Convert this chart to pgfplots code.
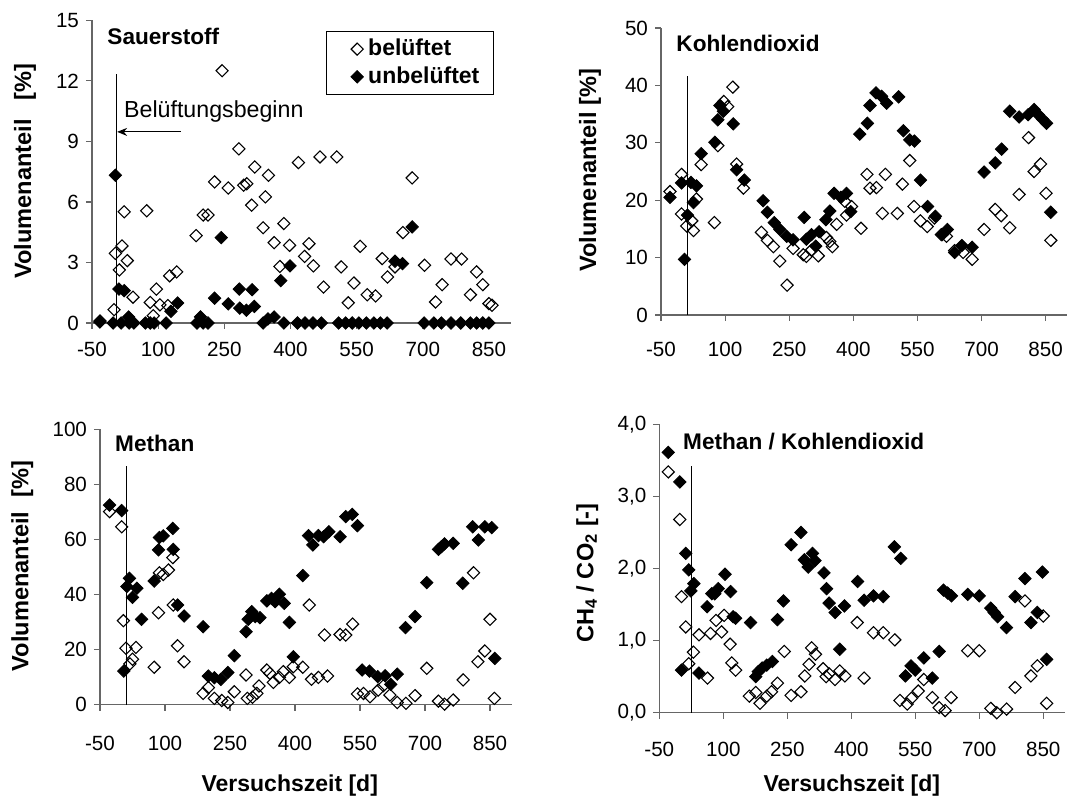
\documentclass[border=0pt]{standalone}
\usepackage{fontspec}
\setmainfont{Liberation Sans}
\usepackage{pgfplots}
\pgfplotsset{compat=1.18}
\usetikzlibrary{arrows.meta}

\tikzset{ttl/.style={anchor=west, font=\fontsize{11.3}{13}\selectfont\bfseries, inner sep=0pt}}
\pgfplotsset{
  panel/.style={
    scale only axis, anchor=south west,
    xmin=-50, xmax=900, ymin=0,
    axis lines*=left,
    axis line style={black!60, line width=0.6pt, -},
    xtick={-50,100,...,850},
    tick align=outside,
    major tick length=3pt,
    tick style={black!60, line width=0.6pt},
    tick label style={font=\fontsize{10.3}{12}\selectfont},
    /pgf/number format/assume math mode=true,
    clip=false,
    ylabel style={font=\fontsize{11.8}{13}\selectfont\bfseries},
    xlabel style={font=\fontsize{11.5}{13}\selectfont\bfseries},
  },
  belu/.style={only marks, mark=square, mark size=2.15pt, mark options={rotate=45, draw=black, line width=0.55pt}},
  unbelu/.style={only marks, mark=square*, mark size=2.2pt, mark options={rotate=45, draw=black, fill=black}},
}

\begin{document}
\begin{tikzpicture}
\useasboundingbox (0,0) rectangle (545.5pt,399pt);

% ---------------- Sauerstoff ----------------
\begin{axis}[panel, at={(46pt,237.5pt)}, width=209.5pt, height=151.35pt,
  ymax=15, ytick={0,3,...,15},
  xticklabel style={yshift=-3pt},
  ylabel={Volumenanteil\hspace{0.8em}[\%]},
  ylabel style={at={(axis description cs:-0.160,0.502)}, anchor=center},
  legend style={at={(axis description cs:0.558,0.965)}, anchor=north west, draw=black, thin,
    font=\fontsize{11.5}{13}\selectfont\bfseries, inner xsep=5pt, inner ysep=2pt, row sep=0pt,
    cells={anchor=west}},
  legend image code/.code={\path[draw=none,fill=none] (0pt,-3pt) -- (14pt,3pt);
    \begin{scope}[xshift=10.5pt]\draw[#1] plot coordinates {(0pt,0pt)};\end{scope}},
]
\addplot[belu] coordinates {(-32,0.1) (0,0.66) (3,3.45) (12,2.63) (18,3.82) (23,5.51) (30,3.09) (43,1.28) (74,5.56) (82,1.02) (89,0.36) (96,1.68) (104,0.9) (122,0.86) (126,2.34) (142,2.53) (186,4.33) (202,5.35) (213,5.35) (228,6.99) (245,12.5) (259,6.69) (283,8.63) (294,6.83) (301,6.9) (312,5.84) (319,7.73) (338,4.72) (343,6.25) (350,7.32) (363,3.98) (376,2.8) (385,4.93) (398,3.85) (418,7.95) (432,3.3) (442,3.93) (452,2.83) (467,8.23) (475,1.78) (505,8.23) (515,2.78) (531,1.0) (544,1.98) (558,3.8) (574,1.4) (593,1.34) (608,3.19) (620,2.28) (637,2.78) (655,4.48) (676,7.19) (704,2.86) (729,1.04) (744,1.9) (764,3.17) (788,3.17) (808,1.4) (822,2.53) (836,1.9) (850,0.96) (857,0.88)};
\addlegendentry{belüftet}
\addplot[unbelu] coordinates {(-32,0.05) (-2,0) (3,7.32) (11,1.68) (16,0) (23,1.6) (33,0.3) (34,0) (45,0) (71,0) (82,0) (91,0) (118,0) (129,0.58) (144,0.99) (188,0) (196,0.3) (202,0) (213,0) (228,1.23) (243,4.23) (259,0.95) (284,1.68) (285,0.74) (300,0.63) (313,1.65) (318,0.82) (338,0) (349,0.2) (363,0.3) (378,2.1) (385,0) (399,2.83) (416,0) (433,0) (451,0) (470,0) (509,0) (525,0) (540,0) (555,0) (572,0) (589,0) (604,0) (619,0) (637,3.06) (654,2.94) (676,4.76) (703,0) (725,0) (742,0) (764,0) (786,0) (808,0) (822,0) (836,0) (850,0)};
\addlegendentry{unbelüftet}
\draw[black, line width=0.5pt] (axis cs:5,0) -- (axis cs:5,12.36);
\draw[black, line width=0.6pt, -{Stealth[length=5pt,width=4pt]}] (axis cs:151,9.47) -- (axis cs:7,9.47);
\node[anchor=base west, inner sep=0pt, font=\fontsize{11.6}{13}\selectfont] at (axis cs:22,10.18) {Belüftungsbeginn};
\node[ttl] at (axis description cs:0.036,0.948) {Sauerstoff};
\end{axis}

% ---------------- Kohlendioxid ----------------
\begin{axis}[panel, at={(330.5pt,241.5pt)}, width=203pt, height=143.5pt,
  ymax=50, ytick={0,10,...,50},
  xticklabel style={yshift=-7pt},
  ylabel={Volumenanteil [\%]},
  ylabel style={at={(axis description cs:-0.175,0.505)}, anchor=center},
]
\addplot[unbelu] coordinates {(-29,20.5) (-2,23.0) (5,9.7) (12,17.4) (20,23.1) (26,19.6) (33,22.5) (44,28.1) (76,30.1) (83,34.0) (88,36.5) (96,35.5) (119,33.3) (127,25.3) (145,23.5) (189,19.9) (199,17.9) (215,16.1) (228,14.9) (244,13.7) (259,13.1) (285,17.0) (290,13.2) (302,14.0) (312,12.0) (320,14.5) (336,16.6) (345,18.1) (355,21.2) (371,20.5) (384,21.2) (394,18.0) (415,31.5) (433,33.4) (439,36.5) (453,38.7) (466,38.1) (478,36.9) (506,38.0) (517,32.1) (532,30.5) (543,30.3) (557,23.5) (574,18.9) (592,17.2) (608,14.0) (620,14.9) (637,10.9) (654,12.1) (678,11.8) (706,24.9) (732,26.5) (747,28.9) (766,35.5) (788,34.5) (809,34.9) (823,35.8) (833,34.9) (843,34.1) (852,33.4) (862,17.9)};
\addplot[belu] coordinates {(-29,21.5) (-2,24.5) (-2,17.6) (10,15.5) (22,16.4) (26,14.7) (33,20.2) (44,26.2) (75,16.1) (83,29.5) (97,37.2) (106,36.3) (118,39.7) (127,26.3) (143,22.1) (185,14.4) (199,13.0) (213,11.9) (228,9.4) (245,5.2) (259,11.6) (283,10.5) (290,10.2) (302,11.3) (318,10.3) (337,13.5) (345,12.8) (351,11.9) (361,15.8) (380,19.8) (384,17.4) (396,18.9) (418,15.1) (432,24.5) (439,22.1) (454,22.2) (468,17.7) (475,24.5) (503,17.7) (515,22.8) (532,26.9) (542,18.9) (557,16.4) (573,15.4) (590,16.9) (606,14.0) (618,13.7) (637,11.2) (657,10.9) (678,9.7) (706,14.9) (732,18.4) (746,17.3) (766,15.2) (788,21.0) (810,30.9) (823,25.0) (838,26.3) (851,21.2) (862,13.0)};
\draw[black, line width=0.5pt] (axis cs:11,0) -- (axis cs:11,41.6);
\node[ttl] at (axis description cs:0.037,0.948) {Kohlendioxid};
\end{axis}

% ---------------- Methan ----------------
\begin{axis}[panel, at={(50pt,46.65pt)}, width=205.85pt, height=137.7pt,
  ymax=100, ytick={0,20,...,100},
  xticklabel style={yshift=-9pt},
  xlabel={Versuchszeit [d]},
  xlabel style={at={(axis description cs:0.461,-0.292)}, anchor=center},
  ylabel={Volumenanteil\hspace{0.6em}[\%]},
  ylabel style={at={(axis description cs:-0.189,0.504)}, anchor=center},
]
\addplot[unbelu] coordinates {(-28,72.5) (0,70.5) (5,12.2) (12,42.9) (18,45.9) (25,39.0) (35,42.3) (46,31.0) (75,44.9) (85,56.2) (87,60.7) (96,61.3) (118,64.0) (119,56.4) (129,36.2) (144,32.2) (188,28.3) (200,10.4) (214,9.8) (229,9.2) (245,11.7) (260,17.8) (287,26.5) (292,31.0) (300,33.8) (308,32.0) (319,31.6) (335,37.7) (346,38.6) (354,37.4) (364,40.1) (375,36.8) (387,29.9) (396,17.4) (418,46.9) (431,61.4) (441,58.0) (454,61.4) (466,61.0) (478,62.8) (504,61.0) (517,68.3) (532,69.1) (544,65.0) (555,12.6) (572,12.2) (591,10.2) (608,10.5) (621,7.4) (636,11.1) (655,28.0) (677,32.0) (704,44.3) (731,56.4) (738,57.4) (745,58.4) (765,58.6) (787,44.1) (810,64.6) (823,59.8) (838,64.6) (854,64.3) (861,16.8)};
\addplot[belu] coordinates {(-28,70.1) (0,64.6) (4,30.5) (10,20.5) (19,14.8) (25,16.5) (33,20.8) (75,13.6) (85,33.4) (87,47.9) (96,47.3) (108,48.9) (118,53.4) (119,36.2) (129,21.4) (144,15.6) (188,4.1) (200,6.2) (214,2.3) (231,1.5) (245,0.8) (260,4.7) (287,10.8) (290,2.3) (302,2.7) (312,4.1) (317,6.8) (335,12.6) (342,11.4) (350,8.1) (364,9.9) (373,12.0) (387,9.9) (396,13.8) (418,13.6) (433,36.2) (438,9.2) (454,9.9) (468,25.3) (475,10.4) (504,25.5) (517,25.3) (533,29.3) (544,3.9) (558,4.1) (573,2.9) (592,5.3) (604,6.9) (619,3.5) (636,0.8) (656,0.5) (677,3.3) (704,13.2) (731,1.3) (745,0.2) (765,1.7) (788,9.0) (812,47.9) (822,15.6) (838,19.5) (850,31.0) (860,2.3)};
\draw[black, line width=0.5pt] (axis cs:10,0) -- (axis cs:10,86.7);
\node[ttl] at (axis description cs:0.036,0.950) {Methan};
\end{axis}

% ---------------- Methan / Kohlendioxid ----------------
\begin{axis}[panel, at={(329.65pt,42.65pt)}, width=202.65pt, height=144.2pt,
  ymax=4, ytick={0,1,...,4},
  yticklabel style={/pgf/number format/.cd, fixed, fixed zerofill, precision=1, use comma},
  xticklabel style={yshift=-8pt},
  xlabel={Versuchszeit [d]},
  xlabel style={at={(axis description cs:0.475,-0.251)}, anchor=center},
  ylabel={CH\textsubscript{4} / CO\textsubscript{2} [-]},
  ylabel style={at={(axis description cs:-0.178,0.484)}, anchor=center},
]
\addplot[unbelu] coordinates {(-29,3.61) (-2,3.20) (2,0.59) (12,2.21) (19,1.98) (24,1.69) (31,1.79) (43,0.55) (62,1.47) (73,1.65) (80,1.65) (88,1.72) (104,1.92) (117,1.68) (123,1.33) (129,1.31) (164,1.25) (176,0.50) (182,0.57) (191,0.62) (202,0.66) (215,0.71) (227,1.29) (241,1.55) (259,2.33) (282,2.50) (290,2.12) (299,2.02) (309,2.21) (315,2.11) (336,1.94) (342,1.72) (348,1.52) (362,1.39) (373,0.88) (384,1.48) (415,1.82) (430,1.56) (452,1.62) (475,1.61) (501,2.30) (516,2.14) (527,0.51) (540,0.65) (550,0.59) (570,0.76) (590,0.48) (606,0.85) (616,1.70) (626,1.66) (635,1.62) (673,1.64) (700,1.62) (727,1.45) (735,1.39) (743,1.33) (764,1.18) (784,1.61) (807,1.86) (821,1.25) (836,1.39) (848,1.95) (858,0.74)};
\addplot[belu] coordinates {(-29,3.34) (-2,2.68) (2,1.61) (12,1.19) (19,0.68) (30,0.84) (43,1.08) (63,0.48) (70,1.10) (83,1.28) (96,1.12) (102,1.35) (116,0.95) (120,0.69) (129,0.59) (161,0.23) (176,0.28) (186,0.13) (202,0.23) (213,0.29) (227,0.41) (243,0.85) (259,0.24) (282,0.29) (291,0.51) (301,0.67) (307,0.90) (316,0.81) (334,0.61) (341,0.50) (348,0.54) (362,0.46) (373,0.58) (385,0.51) (414,1.25) (430,0.48) (452,1.11) (475,1.11) (502,1.01) (514,0.17) (531,0.12) (541,0.20) (557,0.30) (570,0.46) (590,0.21) (606,0.07) (620,0.03) (634,0.21) (673,0.86) (700,0.86) (727,0.06) (741,0.0) (764,0.05) (784,0.35) (807,1.55) (821,0.51) (836,0.65) (850,1.34) (858,0.13)};
\draw[black, line width=0.5pt] (axis cs:26,0) -- (axis cs:26,3.42);
\node[ttl] at (axis description cs:0.058,0.939) {Methan / Kohlendioxid};
\end{axis}
\end{tikzpicture}
\end{document}
